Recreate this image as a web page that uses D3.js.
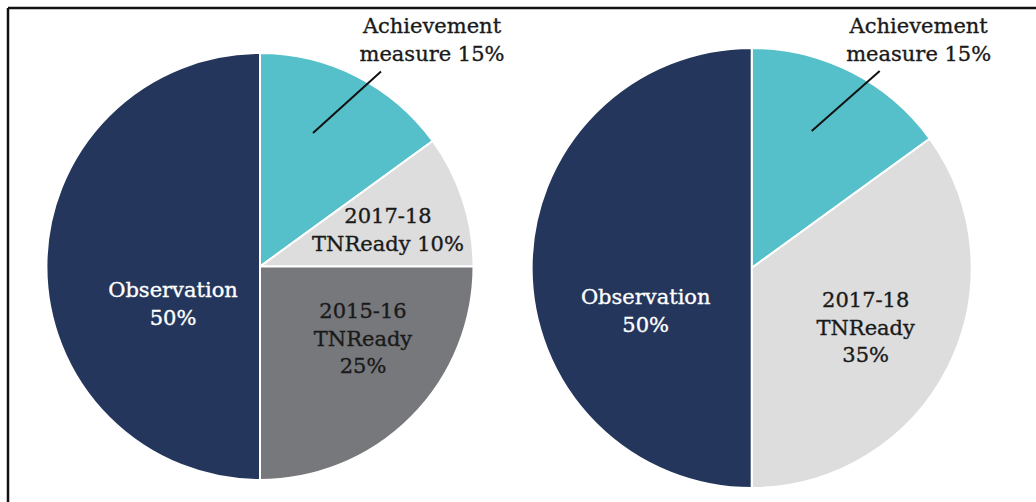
<!DOCTYPE html>
<html>
<head>
<meta charset="utf-8">
<script src="https://cdn.jsdelivr.net/npm/d3@7"></script>
<style>
  html, body { margin: 0; padding: 0; background: #fff; }
  svg { display: block; }
</style>
</head>
<body>
<div id="chart"></div>
<script>
const width = 1036;
const height = 502;

// slice order runs clockwise from 12 o'clock
const leftCategories = ["Achievement measure", "2017-18 TNReady", "2015-16 TNReady", "Observation"];
const leftValues = [15, 10, 25, 50];
const rightCategories = ["Achievement measure", "2017-18 TNReady", "Observation"];
const rightValues = [15, 35, 50];

const colors = {
  "Achievement measure": "#55c0c9",
  "2017-18 TNReady": "#dddddd",
  "2015-16 TNReady": "#77787c",
  "Observation": "#24365b"
};

const svg = d3.select("#chart").append("svg")
  .attr("width", width)
  .attr("height", height);

// frame lines (top and left only)
svg.append("line")
  .attr("x1", 8).attr("x2", width).attr("y1", 8).attr("y2", 8)
  .attr("stroke", "#111").attr("stroke-width", 2.5);
svg.append("line")
  .attr("x1", 8).attr("x2", 8).attr("y1", 8).attr("y2", height)
  .attr("stroke", "#111").attr("stroke-width", 2.5);

const font = "'DejaVu Serif', serif";

function drawPie(cx, cy, r, cats, vals, labels) {
  const data = cats.map((c, i) => ({ cat: c, value: vals[i] }));
  const pie = d3.pie().sort(null).value(d => d.value);
  const arc = d3.arc().innerRadius(0).outerRadius(r);

  const g = svg.append("g").attr("transform", `translate(${cx},${cy})`);

  g.selectAll("path")
    .data(pie(data))
    .enter()
    .append("path")
    .attr("d", arc)
    .attr("fill", d => colors[d.data.cat])
    .attr("stroke", "#fff")
    .attr("stroke-width", 2);

  // labels, offsets relative to pie centre
  labels.forEach(l => {
    if (l.leader) {
      g.append("line")
        .attr("x1", l.leader[0]).attr("y1", l.leader[1])
        .attr("x2", l.leader[2]).attr("y2", l.leader[3])
        .attr("stroke", "#111").attr("stroke-width", 2);
    }
    const t = g.append("text")
      .attr("text-anchor", "middle")
      .attr("fill", l.color)
      .attr("stroke", l.color)
      .attr("stroke-width", 0.35)
      .style("font-family", font)
      .style("font-size", "21px");
    l.lines.forEach((s, i) => {
      t.append("tspan")
        .attr("x", l.x)
        .attr("y", l.y + i * 27.5)
        .text(s);
    });
  });
}

drawPie(260, 266.5, 213.5, leftCategories, leftValues, [
  { lines: ["Achievement", "measure 15%"], x: 172, y: -233.5, color: "#1a1a1a", leader: [53, -133.5, 121, -195] },
  { lines: ["2017-18", "TNReady 10%"], x: 128, y: -43.5, color: "#1a1a1a" },
  { lines: ["2015-16", "TNReady", "25%"], x: 103, y: 51.5, color: "#1a1a1a" },
  { lines: ["Observation", "50%"], x: -87, y: 30.5, color: "#fff" }
]);

drawPie(751.7, 268, 220, rightCategories, rightValues, [
  { lines: ["Achievement", "measure 15%"], x: 167, y: -235, color: "#1a1a1a", leader: [60, -137, 128, -197] },
  { lines: ["2017-18", "TNReady", "35%"], x: 114, y: 39, color: "#1a1a1a" },
  { lines: ["Observation", "50%"], x: -106, y: 36, color: "#fff" }
]);
</script>
</body>
</html>
